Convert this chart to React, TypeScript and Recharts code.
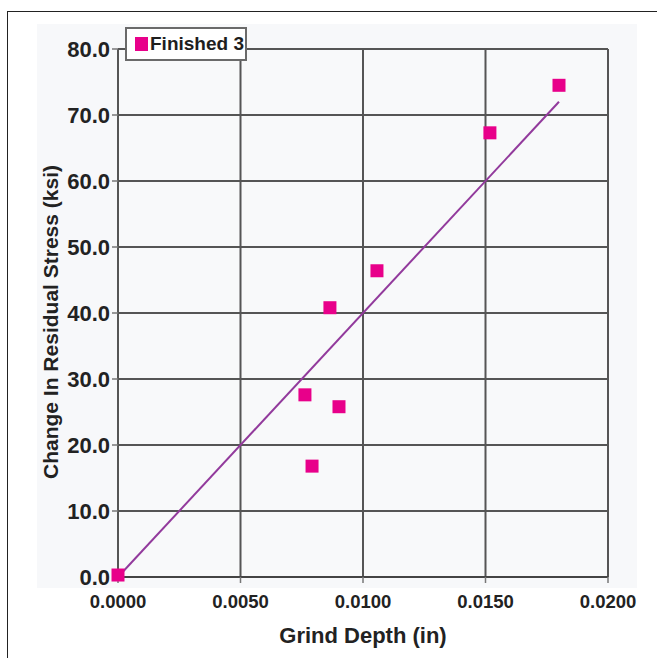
import React from 'react';
import { ScatterChart, Scatter, XAxis, YAxis, CartesianGrid, Legend, Label } from 'recharts';

const grindDepth = [0, 0.00763, 0.00792, 0.00865, 0.00902, 0.01057, 0.01518, 0.0180];
const stressChange = [0.3, 27.6, 16.8, 40.8, 25.8, 46.4, 67.3, 74.5];
const trendX = [0, 0.0180];
const trendY = [0, 72.0];
const xTicks = [0, 0.005, 0.01, 0.015, 0.02];
const yTicks = [0, 10, 20, 30, 40, 50, 60, 70, 80];
const seriesName = 'Finished 3';

const points = grindDepth.map((x, i) => ({ x, y: stressChange[i] }));
const trend = trendX.map((x, i) => ({ x, y: trendY[i] }));

const FONT = '"Liberation Sans", Arial, Helvetica, sans-serif';
const MAGENTA = '#e8008a';
const PURPLE = '#923a9c';

const SquareShape = (props: any) => {
  const { cx, cy } = props;
  if (cx == null || cy == null) return null;
  return <rect x={cx - 6.5} y={cy - 6.5} width={13} height={13} fill={MAGENTA} />;
};

const NoShape = () => null;

const LegendBox = () => (
  <div
    style={{
      display: 'flex',
      alignItems: 'center',
      boxSizing: 'border-box',
      width: 122,
      height: 34,
      border: '2px solid #6a6a6a',
      background: '#ffffff',
      padding: '0 0 0 8px',
      fontFamily: FONT,
      fontWeight: 'bold',
      fontSize: 19,
      color: '#1e1e1e',
    }}
  >
    <span style={{ display: 'inline-block', width: 13, height: 14, background: MAGENTA, marginRight: 2 }} />
    <span>{seriesName}</span>
  </div>
);

export default function App() {
  return (
    <div style={{ position: 'absolute', left: 0, top: 0, width: 657, height: 658, background: '#fff' }}>
      <div style={{ position: 'absolute', left: 37, top: 24, width: 600, height: 564, background: '#f7f8fa' }} />
      <div
        style={{
          position: 'absolute',
          left: 7,
          top: 11,
          width: 700,
          height: 700,
          borderLeft: '1.5px solid #222',
          borderTop: '1.5px solid #222',
        }}
      />
      <div style={{ position: 'absolute', left: 0, top: 0 }}>
        <ScatterChart width={657} height={658} margin={{ top: 49, right: 49, bottom: 0, left: 0 }}>
          <CartesianGrid stroke="#555" strokeWidth={2} horizontalValues={yTicks} verticalValues={xTicks} fill="#f8f9fa" />
          <XAxis
            type="number"
            dataKey="x"
            domain={[0, 0.02]}
            ticks={xTicks}
            tickFormatter={(v: number) => v.toFixed(4)}
            height={81}
            axisLine={{ stroke: '#444', strokeWidth: 2 }}
            tickLine={{ stroke: '#777', strokeWidth: 1.5 }}
            tickSize={6}
            tickMargin={12}
            tick={{ fill: '#222', fontFamily: FONT, fontWeight: 'bold', fontSize: 18.5 }}
            interval={0}
          >
            <Label
              value="Grind Depth (in)"
              position="insideBottom"
              offset={15}
              style={{ fill: '#222', fontFamily: FONT, fontWeight: 'bold', fontSize: 22 }}
            />
          </XAxis>
          <YAxis
            type="number"
            dataKey="y"
            domain={[0, 80]}
            ticks={yTicks}
            tickFormatter={(v: number) => v.toFixed(1)}
            width={118}
            axisLine={{ stroke: '#555', strokeWidth: 2 }}
            tickLine={{ stroke: '#777', strokeWidth: 1.5 }}
            tickSize={6}
            tickMargin={2}
            tick={{ fill: '#222', fontFamily: FONT, fontWeight: 'bold', fontSize: 22 }}
            interval={0}
          >
            <Label
              content={() => (
                <text
                  x={50}
                  y={322}
                  transform="rotate(-90 50 322)"
                  textAnchor="middle"
                  dominantBaseline="central"
                  fill="#222"
                  fontFamily={FONT}
                  fontWeight="bold"
                  fontSize={21}
                >
                  Change In Residual Stress (ksi)
                </text>
              )}
            />
          </YAxis>
          <Legend
            layout="horizontal"
            verticalAlign="middle"
            align="center"
            content={() => <LegendBox />}
            wrapperStyle={{ position: 'absolute', left: 125, top: 27, width: 122, height: 34 }}
          />
          <Scatter
            name="trend"
            data={trend}
            line={{ stroke: PURPLE, strokeWidth: 2 }}
            shape={NoShape}
            legendType="none"
            isAnimationActive={false}
          />
          <Scatter name={seriesName} data={points} shape={SquareShape} isAnimationActive={false} />
        </ScatterChart>
      </div>
    </div>
  );
}
